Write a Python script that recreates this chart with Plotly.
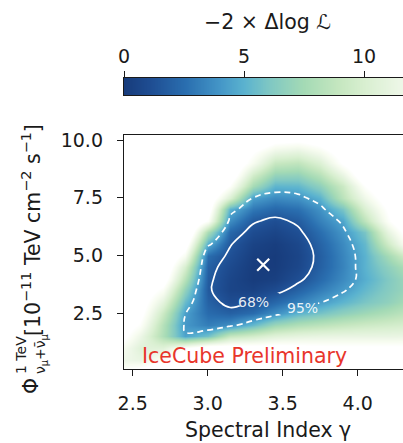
import numpy as np
import plotly.graph_objects as go

# ---------------- data ----------------
gamma = [2.4, 2.55, 2.7, 2.85, 3.0, 3.15, 3.3, 3.45, 3.6, 3.75, 3.9, 4.05, 4.2, 4.35]
flux = [0.0, 0.5, 1.0, 1.5, 2.0, 2.5, 3.0, 3.5, 4.0, 4.5, 5.0,
        5.5, 6.0, 6.5, 7.0, 7.5, 8.0, 8.5, 9.0, 9.5, 10.0, 10.5]
# -2 x Delta log L, one row per flux value
ts_rows = [
    [13.0, 14.0, 15.5, 17.0, 17.5, 17.5, 17.5, 17.5, 17.5, 17.5, 17.5, 17.5, 17.5, 17.5],
    [11.8, 11.3, 13.0, 15.0, 16.0, 16.0, 16.0, 16.0, 16.0, 16.0, 16.0, 16.0, 16.0, 16.0],
    [12.8, 10.6, 10.6, 13.1, 14.6, 14.3, 14.1, 14.1, 13.9, 13.7, 13.6, 13.6, 13.6, 13.6],
    [14.5, 11.54, 7.95, 4.45, 5.68, 8.96, 9.69, 10.6, 10.98, 11.17, 11.26, 11.26, 11.26, 11.35],
    [15.0, 13.0, 8.23, 4.06, 3.13, 3.72, 5.34, 7.19, 8.04, 8.52, 8.99, 9.37, 9.65, 9.94],
    [15.5, 14.0, 9.32, 4.36, 2.43, 1.96, 2.47, 3.68, 5.02, 5.78, 6.63, 7.29, 7.95, 8.71],
    [16.0, 14.5, 10.88, 5.45, 2.02, 1.05, 1.35, 2.26, 3.22, 4.17, 5.11, 5.96, 6.72, 7.76],
    [16.5, 15.0, 12.7, 6.79, 1.70, 0.60, 0.42, 1.00, 2.06, 3.09, 4.10, 5.30, 6.34, 7.28],
    [17.0, 15.5, 14.5, 8.38, 1.80, 0.66, 0.08, 0.29, 1.13, 2.35, 3.56, 4.83, 6.15, 7.47],
    [17.5, 16.5, 15.5, 9.92, 1.99, 0.89, 0.10, 0.08, 0.71, 1.96, 3.34, 5.02, 6.63, 8.14],
    [18.0, 17.0, 16.0, 12.3, 2.49, 1.22, 0.22, 0.05, 0.60, 1.87, 3.39, 5.02, 7.48, 10.03],
    [18.5, 18.0, 17.0, 14.5, 4.83, 1.60, 0.50, 0.18, 0.75, 2.09, 3.58, 5.30, 9.46, 13.3],
    [19.0, 18.5, 17.5, 16.5, 7.76, 2.29, 1.02, 0.62, 1.19, 2.55, 3.97, 5.96, 11.07, 14.5],
    [19.5, 19.0, 18.0, 16.5, 12.9, 3.67, 1.70, 1.13, 1.75, 3.23, 4.55, 8.61, 12.85, 16.0],
    [20.0, 19.5, 18.5, 17.0, 14.5, 5.02, 2.94, 2.29, 2.65, 3.85, 5.96, 10.22, 13.5, 16.5],
    [20.5, 20.0, 19.0, 17.5, 15.0, 10.22, 4.32, 3.55, 3.84, 5.02, 8.52, 11.73, 14.5, 17.0],
    [21.0, 20.5, 19.5, 18.5, 16.5, 13.0, 7.59, 5.14, 5.26, 6.67, 9.31, 13.2, 15.5, 17.5],
    [21.5, 21.0, 20.0, 19.0, 17.5, 14.8, 9.68, 6.94, 6.83, 8.33, 11.26, 15.0, 17.0, 18.0],
    [22.0, 21.5, 20.5, 19.5, 18.0, 15.5, 12.3, 9.09, 8.72, 10.29, 13.5, 15.5, 17.5, 18.5],
    [22.5, 22.0, 21.0, 20.0, 19.0, 16.0, 13.4, 11.35, 10.94, 12.16, 14.4, 16.3, 18.0, 19.0],
    [23.0, 22.5, 21.5, 20.5, 19.5, 17.8, 15.5, 13.9, 13.6, 14.3, 16.3, 18.0, 19.5, 20.5],
    [24.0, 23.5, 22.5, 21.5, 20.5, 19.0, 17.5, 16.2, 16.0, 16.6, 18.0, 19.5, 20.5, 21.5],
]
best_fit_gamma = [3.37]
best_fit_flux = [4.6]
contour_names = ["68%", "95%"]
contour_levels = [1.5, 4.3]
contour_label_pos = [(3.304, 3.0), (3.635, 2.75)]
# grid nodes left out of each contour line so it breaks under its label
contour_label_gaps = [[(3.3, 3.0), (3.45, 3.0)], [(3.6, 2.5), (3.6, 3.0)]]
cbar_ticks = [0, 5, 10]
x_ticks = [2.5, 3.0, 3.5, 4.0]
x_ticktext = ["2.5", "3.0", "3.5", "4.0"]
y_ticks = [2.5, 5.0, 7.5, 10.0]
y_ticktext = ["2.5", "5.0", "7.5", "10.0"]
# colour map: (value, colour)
cmap_values = [0.0, 1.2, 2.6, 4.0, 5.0, 6.1, 7.5, 8.9, 10.0, 11.6, 12.3]
cmap_colors = ['#173b7b', '#1f4f94', '#2a6fb0', '#4496c7', '#5ab2cf', '#80c8c3',
               '#a4dab5', '#c4e6bf', '#d8efd0', '#eef7e8', '#f7fcf0']

# ---------------- styling ----------------
FONT = "DejaVu Sans"
INK = "#1a1a1a"
vmax = cmap_values[-1]
zwhite = 13.3
cscale = [[v / zwhite, c] for v, c in zip(cmap_values, cmap_colors)] + [[1.0, '#ffffff']]

W, H = 403, 443
ML, MR, MT, MB = 124, 0, 78, 74
PW, PH = W - ML - MR, H - MT - MB


def px_x(p):
    return (p - ML) / PW


def px_y(p):
    return (H - MB - p) / PH


fig = go.Figure()

fig.add_trace(go.Heatmap(
    x=gamma, y=flux, z=ts_rows, colorscale=cscale, zmin=0, zmax=zwhite,
    zsmooth='best', showscale=False, hoverinfo='skip'))

for name, lvl, gaps in zip(contour_names, contour_levels, contour_label_gaps):
    zc = [list(r) for r in ts_rows]
    for (gg, ff) in gaps:
        zc[flux.index(ff)][gamma.index(gg)] = None
    fig.add_trace(go.Contour(
        x=gamma, y=flux, z=zc, autocontour=False, connectgaps=False,
        contours=dict(start=lvl, end=lvl, size=1, coloring='none'),
        line=dict(color='white', width=1.7, smoothing=1.3,
                  dash='solid' if name == "68%" else '6px,4px'),
        showscale=False, hoverinfo='skip', name=name))

fig.add_trace(go.Scatter(
    x=best_fit_gamma, y=best_fit_flux, mode='markers',
    marker=dict(symbol='x-thin', size=12, line=dict(color='white', width=2.2)),
    hoverinfo='skip', showlegend=False))

# colour bar drawn as its own strip on a second axis pair
cb_vals = np.linspace(0, vmax, 400)
fig.add_trace(go.Heatmap(
    x=cb_vals, y=[0, 1], z=[cb_vals, cb_vals], colorscale=cscale, zmin=0, zmax=zwhite,
    showscale=False, hoverinfo='skip', xaxis='x2', yaxis='y2'))

axis_common = dict(showline=True, linecolor=INK, linewidth=1.4, ticks='outside',
                   ticklen=6, tickwidth=1.3, tickcolor=INK, showgrid=False,
                   zeroline=False, tickfont=dict(family=FONT, size=19, color=INK))

fig.update_layout(
    width=W, height=H, margin=dict(l=ML, r=MR, t=MT, b=MB),
    paper_bgcolor='white', plot_bgcolor='white', showlegend=False,
    font=dict(family=FONT, color=INK),
    xaxis=dict(domain=[0, 1], range=[2.442, 4.302], anchor='y', mirror=True,
               tickvals=x_ticks, ticktext=x_ticktext, ticklabelstandoff=11, **axis_common),
    yaxis=dict(domain=[0, px_y(135)], range=[0.09, 10.22], anchor='x', mirror=False,
               tickvals=y_ticks, ticktext=y_ticktext, ticklabelstandoff=10, **axis_common),
    xaxis2=dict(domain=[0, 1], range=[0, (W - ML) / 24.0], anchor='y2', side='top',
                mirror=True, tickvals=cbar_ticks, **axis_common),
    yaxis2=dict(domain=[px_y(95), 1.0], range=[0, 1], anchor='x2', showline=True,
                linecolor=INK, linewidth=1.4, showticklabels=False, ticks='',
                showgrid=False, zeroline=False),
)

ann = []
for name, (gx, fy) in zip(contour_names, contour_label_pos):
    ann.append(dict(x=gx, y=fy, xref='x', yref='y', text=name,
                    showarrow=False, font=dict(family=FONT, size=14, color='rgba(255,255,255,0.9)'),
                    xanchor='center', yanchor='middle'))

ann.append(dict(x=2.549, y=0.67, xref='x', yref='y', text="IceCube Preliminary",
                showarrow=False, font=dict(family=FONT, size=20.5, color='#e8352b'),
                xanchor='left', yanchor='middle'))
ann.append(dict(x=px_x(267.5), y=px_y(430), xref='paper', yref='paper',
                text="Spectral Index γ", showarrow=False,
                font=dict(family=FONT, size=20.5, color=INK), xanchor='center', yanchor='middle'))
ann.append(dict(x=px_x(267.5), y=px_y(22), xref='paper', yref='paper',
                text="−2 × Δlog ℒ", showarrow=False,
                font=dict(family=FONT, size=20.5, color=INK), xanchor='center', yanchor='middle'))
# rotated y-axis label, assembled from pieces
ann.append(dict(x=px_x(31), y=px_y(386), xref='paper', yref='paper', text="Φ",
                textangle=-90, showarrow=False, font=dict(family=FONT, size=20.5, color=INK),
                xanchor='center', yanchor='middle'))
ann.append(dict(x=px_x(21), y=px_y(376), xref='paper', yref='paper', text="1 TeV",
                textangle=-90, showarrow=False, font=dict(family=FONT, size=14, color=INK),
                xanchor='center', yanchor='bottom'))
ann.append(dict(x=px_x(41), y=px_y(376), xref='paper', yref='paper',
                text="ν<sub>μ</sub>+ν\u0304<sub>μ</sub>",
                textangle=-90, showarrow=False, font=dict(family=FONT, size=14, color=INK),
                xanchor='center', yanchor='bottom'))
ann.append(dict(x=px_x(31), y=px_y(338), xref='paper', yref='paper',
                text="[10<sup>−11</sup> TeV cm<sup>−2</sup> s<sup>−1</sup>]",
                textangle=-90, showarrow=False, font=dict(family=FONT, size=20.5, color=INK),
                xanchor='center', yanchor='bottom'))
fig.update_layout(annotations=ann)

fig.write_html("out.html")
